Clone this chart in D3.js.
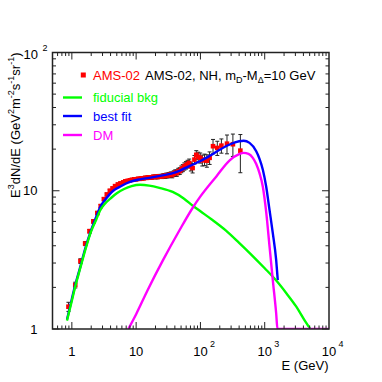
<!DOCTYPE html>
<html><head><meta charset="utf-8">
<script src="https://cdn.jsdelivr.net/npm/d3@7"></script>
<style>body{margin:0;background:#fff} text{font-family:"Liberation Sans",Arial,Helvetica,sans-serif}</style>
</head><body><svg id="c" width="382" height="382"></svg>
<script>
// AMS-02 data points (E in GeV, E^3 dN/dE, error)
const dataE = [0.885,1.13,1.36,1.61,1.88,2.16,2.49,2.81,3.15,3.5,3.9,4.3,4.7,5.2,5.7,6.3,6.8,7.4,8.0,8.6,9.3,10.0,10.7,11.4,12.2,13.0,13.8,14.7,15.6,16.5,17.5,18.5,19.5,20.6,21.7,22.8,24.0,25.3,26.6,28.0,29.4,31.0,32.7,34.5,36.4,38.5,40.6,42.8,45.2,47.7,50.4,53.2,56.3,59.6,63.1,66.9,71.1,75.6,80.7,86.2,92.4,99.3,107,116,126,139,157,183,212,259,320,418];
const dataV = [1.45,2.08,3.1,4.15,5.1,6.0,6.9,7.75,8.7,9.4,10.0,10.4,10.8,11.1,11.3,11.5,11.7,11.8,11.9,12.0,12.1,12.1,12.2,12.2,12.3,12.3,12.4,12.4,12.5,12.5,12.5,12.6,12.6,12.6,12.6,12.7,12.7,12.7,12.8,12.8,12.9,12.9,13.0,13.1,13.0,13.3,13.5,13.4,13.8,13.9,14.3,14.6,15.0,15.3,15.6,15.9,15.0,14.6,16.8,18.2,17.6,17.3,16.6,16.8,16.5,17.3,21.0,20.4,21.2,21.9,21.7,19.5];
const dataErr = [0.11,0.1,0.12,0.14,0.15,0.17,0.19,0.2,0.21,0.22,0.23,0.24,0.25,0.25,0.26,0.26,0.27,0.27,0.28,0.28,0.29,0.29,0.3,0.3,0.31,0.31,0.32,0.33,0.34,0.35,0.36,0.37,0.38,0.39,0.4,0.42,0.43,0.45,0.47,0.49,0.51,0.53,0.55,0.58,0.6,0.63,0.66,0.7,0.73,0.77,0.8,0.85,0.9,0.95,1.0,1.05,1.1,1.15,1.2,1.3,1.4,1.45,1.5,1.6,1.7,1.8,2.5,2.4,2.5,3.4,4.0,6.0];

// fiducial background
const bkgE = [0.84,1.0,1.12,1.35,1.61,2.0,2.4,2.75,3.3,4.0,5.0,6.5,8.5,11.5,16,23,37,55,77,100,150,250,400,600,1000,1500,2200,3100,4200,5130];
const bkgV = [1.15,1.6,2.0,2.75,3.7,5.1,6.2,7.2,8.1,8.8,9.6,10.3,10.8,11.05,10.9,10.5,9.8,8.8,7.75,7.1,6.2,5.15,4.2,3.5,2.75,2.25,1.8,1.45,1.15,1.0];

// best fit
const fitE = [0.84,1.0,1.12,1.35,1.61,2.0,2.4,2.75,3.3,4.4,5.6,8,11.5,16,23.4,35,48,70,100,140,200,285,400,470,581,738,830,935,1055,1186,1336,1507,1597];
const fitV = [1.17,1.65,2.05,2.8,3.8,5.2,6.5,7.6,8.6,10.0,10.7,11.6,12.1,12.4,12.8,13.3,14.0,15.2,16.4,17.9,19.8,21.6,22.8,23.0,22.2,19.3,17.0,14.2,10.7,7.3,4.94,3.16,2.26];

// DM component
const dmE = [7.55,10,15,26.3,47.5,76.8,100,177,285,400,470,560,653,738,830,935,1055,1186,1336,1507,1580,1600,10000];
const dmV = [1.0,1.28,1.9,3.16,5.2,7.6,9.1,12.7,16.6,18.4,18.8,18.5,17.3,15.6,13.4,10.7,7.0,4.0,2.26,1.3,1.0,0,0];

const xTickVals = [1,10,100,1000,10000];
const xTickBase = ["1","10","10","10","10"];
const xTickExp = ["","","2","3","4"];
const yTickVals = [1,10,100];
const yTickBase = ["1","10","10"];
const yTickExp = ["","","2"];

const legendLabels = ["AMS-02","fiducial bkg","best fit","DM"];
const colors = {data:"#ff0000", bkg:"#00ff00", fit:"#0000ff", dm:"#ff00ff"};

const L=52.5, R=329, T=52.5, B=329;
const x = d3.scaleLog().domain([0.5,1e4]).range([L,R]);
const y = d3.scaleLog().domain([1,100]).range([B,T]);
const svg = d3.select("#c");

svg.append("defs").append("clipPath").attr("id","clip")
  .append("rect").attr("x",L).attr("y",T).attr("width",R-L).attr("height",B-T);

const g = svg.append("g").attr("clip-path","url(#clip)");

// data
const pts = dataE.map((e,i)=>({e, v:dataV[i], err:dataErr[i]}));
const eb = g.append("g").attr("stroke","#222").attr("stroke-width",1);
pts.forEach(p=>{
  const px=x(p.e), y1=y(p.v+p.err), y2=y(p.v-p.err);
  eb.append("line").attr("x1",px).attr("x2",px).attr("y1",y1).attr("y2",y2);
  eb.append("line").attr("x1",px-2).attr("x2",px+2).attr("y1",y1).attr("y2",y1);
  eb.append("line").attr("x1",px-2).attr("x2",px+2).attr("y1",y2).attr("y2",y2);
});
g.append("g").selectAll("rect").data(pts).join("rect")
  .attr("x",d=>x(d.e)-2.3).attr("y",d=>y(d.v)-2.3).attr("width",4.6).attr("height",4.6)
  .attr("fill",colors.data);

const line = d3.line().x(d=>x(d[0])).y(d=>d[1]>0?y(d[1]):B).curve(d3.curveMonotoneX);
function curve(E,V,c){
  g.append("path").datum(E.map((e,i)=>[e,V[i]])).attr("d",line)
   .attr("fill","none").attr("stroke",c).attr("stroke-width",2.4).attr("stroke-linejoin","round");
}
curve(fitE,fitV,colors.fit);
curve(bkgE,bkgV,colors.bkg);
curve(dmE,dmV,colors.dm);

// frame
svg.append("rect").attr("x",L).attr("y",T).attr("width",R-L).attr("height",B-T)
  .attr("fill","none").attr("stroke","#222").attr("stroke-width",1.5);

// ticks
const tk = svg.append("g").attr("stroke","#222").attr("stroke-width",1);
const xMinor=[], yMinor=[];
for(let d=0.1; d<1e4; d*=10){ for(let k=1;k<10;k++){ const v=d*k; if(v>=0.5 && v<=1e4) xMinor.push({v, major:k===1}); } }
for(let d=1; d<100; d*=10){ for(let k=1;k<10;k++){ yMinor.push({v:d*k, major:k===1}); } }
xMinor.forEach(t=>{ const px=x(t.v), len=t.major?7:3.5;
  tk.append("line").attr("x1",px).attr("x2",px).attr("y1",B).attr("y2",B-len);
  tk.append("line").attr("x1",px).attr("x2",px).attr("y1",T).attr("y2",T+len);
});
yMinor.forEach(t=>{ const py=y(t.v), len=t.major?7:3.5;
  tk.append("line").attr("x1",L).attr("x2",L+len).attr("y1",py).attr("y2",py);
  tk.append("line").attr("x1",R).attr("x2",R-len).attr("y1",py).attr("y2",py);
});

// x tick labels
xTickVals.forEach((v,i)=>{
  const t = svg.append("text").attr("x",x(v)).attr("y",356).attr("font-size",13).attr("text-anchor","middle").text(xTickBase[i]);
  if(xTickExp[i]) svg.append("text").attr("x",x(v)+9.5).attr("y",347.3).attr("font-size",9).text(xTickExp[i]);
});
// y tick labels
yTickVals.forEach((v,i)=>{
  if(yTickExp[i]){
    svg.append("text").attr("x",23.5).attr("y",y(v)+6.5).attr("font-size",13).text(yTickBase[i]);
    svg.append("text").attr("x",42.5).attr("y",y(v)-1.8).attr("font-size",9).text(yTickExp[i]);
  } else {
    svg.append("text").attr("x",37.5).attr("y",y(v)+4.6).attr("font-size",13).attr("text-anchor","end").text(yTickBase[i]);
  }
});

// axis titles
svg.append("text").attr("x",328.5).attr("y",369.5).attr("font-size",13).attr("text-anchor","end").text("E (GeV)");
const yt = svg.append("text").attr("transform",`translate(19.5,${T}) rotate(-90)`).attr("font-size",13).attr("text-anchor","end");
const parts = [["E",0],["3",1],["dN/dE (GeV",0],["2",1],["m",0],["-2",1],["s",0],["-1",1],["sr",0],["-1",1],[")",0]];
let prevSup=false;
parts.forEach(([s,sup])=>{
  const ts = yt.append("tspan").text(s);
  if(sup){ ts.attr("font-size",9).attr("dy", prevSup?0:-5.5); }
  else if(prevSup){ ts.attr("dy",5.5); }
  prevSup=!!sup;
});

// legend
const lx1=63, lx2=82, tx=93;
svg.append("rect").attr("x",83.3-2.5).attr("y",75-2.5).attr("width",5).attr("height",5).attr("fill",colors.data);
svg.append("text").attr("x",tx).attr("y",79.5).attr("font-size",13).attr("fill",colors.data).text(legendLabels[0]);
const t2 = svg.append("text").attr("x",145).attr("y",79.5).attr("font-size",13).attr("fill","#000");
t2.append("tspan").text("AMS-02, NH, m");
t2.append("tspan").attr("font-size",9).attr("dy",3).text("D");
t2.append("tspan").attr("dy",-3).text("-M");
t2.append("tspan").attr("font-size",9).attr("dy",3).text("Δ");
t2.append("tspan").attr("dy",-3).text("=10 GeV");
const rows = [[97.5,colors.bkg,legendLabels[1]],[116,colors.fit,legendLabels[2]],[135,colors.dm,legendLabels[3]]];
rows.forEach(([cy,c,lab])=>{
  svg.append("line").attr("x1",lx1).attr("x2",lx2).attr("y1",cy).attr("y2",cy).attr("stroke",c).attr("stroke-width",2.4);
  svg.append("text").attr("x",tx).attr("y",cy+4.5).attr("font-size",13).attr("fill",c).text(lab);
});
</script></body></html>
